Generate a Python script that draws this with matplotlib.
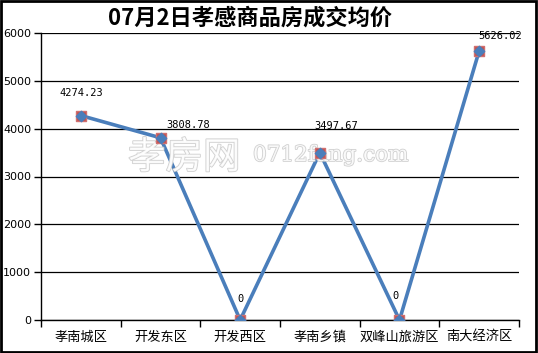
import matplotlib
matplotlib.use("Agg")
import matplotlib.pyplot as plt
import matplotlib.patheffects as pe
from matplotlib.patches import Rectangle

plt.rcParams['font.family'] = ['Noto Sans CJK SC', 'DejaVu Sans']

title = "07月2日孝感商品房成交均价"
categories = ["孝南城区", "开发东区", "开发西区", "孝南乡镇", "双峰山旅游区", "南大经济区"]
prices = [4274.23, 3808.78, 0, 3497.67, 0, 5626.02]
price_labels = ["4274.23", "3808.78", "0", "3497.67", "0", "5626.02"]
yticks = [0, 1000, 2000, 3000, 4000, 5000, 6000]

# label offsets in points (style)
label_offsets = [(0, 16), (20, 9), (0, 15), (12, 19), (-3, 17), (15, 11)]

fig = plt.figure(figsize=(5.38, 3.53), dpi=100)
ax = fig.add_axes([41/538, 33/353, (519-41)/538, (320-33)/353])

x = list(range(len(categories)))
ax.plot(x, prices, color="#4A7EBB", lw=2.6, zorder=3, solid_capstyle='round')
ax.scatter(x, prices, marker='s', s=50, color="#C0504D", edgecolors="#D07070", zorder=5)
ax.scatter(x, prices, marker='D', s=28, color="#4A7EBB", zorder=6)

for xi, v, lab, off in zip(x, prices, price_labels, label_offsets):
    ax.annotate(lab, (xi, v), xytext=off, textcoords='offset points',
                ha='center', va='center', fontsize=7.5,
                family=['DejaVu Sans Mono'], color='black', zorder=7)

ax.set_xlim(-0.5, len(categories) - 0.5)
ax.set_ylim(0, 6000)
ax.set_yticks(yticks)
ax.set_yticklabels([str(t) for t in yticks], fontsize=8, family=['DejaVu Sans'])
ax.yaxis.grid(True, color='black', lw=0.9)
ax.set_axisbelow(True)

ax.set_xticks([i + 0.5 for i in range(-1, len(categories))], minor=False)
ax.set_xticklabels([])
ax.set_xticks(x, minor=True)
ax.set_xticklabels(categories, minor=True, fontsize=9.5)
ax.tick_params(axis='x', which='minor', length=0, pad=8)
ax.tick_params(axis='x', which='major', length=5, width=1, direction='out')
ax.tick_params(axis='y', length=5, width=1, direction='out', pad=2)

for s in ['top', 'right']:
    ax.spines[s].set_visible(False)
for s in ['left', 'bottom']:
    ax.spines[s].set_color('black')
    ax.spines[s].set_linewidth(1)

fig.text(250/538, 1 - 18/353, title, ha='center', va='center', fontsize=16,
         fontweight='bold', color='black')

# watermark (above line, below markers)
wm = [pe.Stroke(linewidth=1.2, foreground='#C8C8C8'), pe.Normal()]
ax.text((128-41)/478, (320-158)/287, "孝房网", fontsize=27, color='white', ha='left',
        va='center', path_effects=wm, zorder=4, alpha=0.85, transform=ax.transAxes)
ax.text((253-41)/478, (320-155)/287, "0712fang.com", fontsize=15.5, color='white', ha='left',
        va='center', family=['DejaVu Serif'], path_effects=wm, zorder=4, alpha=0.85,
        transform=ax.transAxes)

fig.patches.append(Rectangle((0.002, 0.003), 0.995, 0.994, transform=fig.transFigure,
                             fill=False, edgecolor='black', lw=2))

fig.savefig("out.png", dpi=100, facecolor='white')
